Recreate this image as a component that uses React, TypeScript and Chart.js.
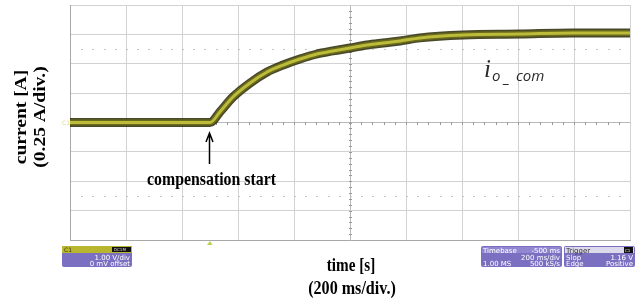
import React, { useEffect, useRef } from "react";
import { Chart, registerables } from "chart.js";

Chart.register(...registerables);

// time in ms (200 ms/div, 10 div), current in A relative to the screen centre (0.25 A/div)
const timeMs = [0, 250, 500, 536, 582, 643, 704, 761, 821, 882, 939, 1000, 1061, 1118, 1179, 1250, 1404, 1607, 1796, 2000];
const currentA = [0, 0, 0, 0.092, 0.217, 0.336, 0.43, 0.489, 0.54, 0.583, 0.609, 0.634, 0.66, 0.677, 0.694, 0.72, 0.745, 0.753, 0.762, 0.762];

const xTicks = { min: 0, max: 2000, step: 200 };
const yTicks = { min: -1, max: 1, step: 0.25 };

const yTitle = ["current [A]", "(0.25 A/div.)"];
const xTitle = ["time [s]", "(200 ms/div.)"];
const eventLabel = "compensation start";
const eventTime = 500;
const traceLabel = { main: "i", sub: ["o", "_", "com"] };

const PURPLE = "#7b6fc1";
const SERIF_B = '700 19px "Liberation Serif"';

function box(ctx: CanvasRenderingContext2D, x: number, y: number, w: number, h: number, fill: string) {
  ctx.fillStyle = fill;
  ctx.beginPath();
  (ctx as any).roundRect ? (ctx as any).roundRect(x, y, w, h, 2) : ctx.rect(x, y, w, h);
  ctx.fill();
}

// text squeezed horizontally (the source figure is condensed)
function sText(ctx: CanvasRenderingContext2D, t: string, x: number, y: number, font: string, sx: number, rot = 0) {
  ctx.save();
  ctx.translate(x, y);
  if (rot) ctx.rotate(rot);
  if (rot) ctx.scale(1, sx);
  else ctx.scale(sx, 1);
  ctx.font = font;
  ctx.fillText(t, 0, 0);
  ctx.restore();
}

const scopePlugin = {
  id: "scope",
  beforeDatasetsDraw(chart: any) {
    const { ctx, chartArea: a, scales } = chart;
    const xs = scales.x, ys = scales.y;
    const cx = xs.getPixelForValue(1000);
    const cy = ys.getPixelForValue(0);
    const divX = (a.right - a.left) / 10;
    const divY = (a.bottom - a.top) / 8;
    ctx.save();
    ctx.fillStyle = "#9a9a9a";
    for (let i = 1; i < 50; i++) {
      const x = a.left + (i * divX) / 5;
      ctx.fillRect(Math.round(x), Math.round(cy) - 1, 1, 3);
    }
    for (let i = 1; i < 40; i++) {
      const y = a.top + (i * divY) / 5;
      ctx.fillRect(Math.round(cx) - 1, Math.round(y), 3, 1);
    }
    ctx.fillStyle = "#c4c4c4";
    [2.5, -2.5].forEach((d) => {
      const y = Math.round(cy - d * divY);
      for (let i = 1; i < 50; i++) {
        const x = a.left + (i * divX) / 5;
        ctx.fillRect(Math.round(x), y, 2, 1);
      }
    });
    ctx.restore();
  },
  afterDraw(chart: any) {
    const { ctx, scales } = chart;
    const xs = scales.x, ys = scales.y;
    ctx.save();
    ctx.fillStyle = "#000";
    ctx.textAlign = "center";
    ctx.textBaseline = "middle";
    sText(ctx, yTitle[0], 22, 117, '700 19.5px "Liberation Serif"', 0.85, -Math.PI / 2);
    sText(ctx, yTitle[1], 41, 117, '700 19.5px "Liberation Serif"', 0.85, -Math.PI / 2);
    ctx.textBaseline = "alphabetic";
    sText(ctx, xTitle[0], 351, 271, '700 18.5px "Liberation Serif"', 0.82);
    sText(ctx, xTitle[1], 352, 294, '700 18.5px "Liberation Serif"', 0.87);

    const ex = Math.round(xs.getPixelForValue(eventTime)) - 0.5;
    ctx.strokeStyle = "#000";
    ctx.lineWidth = 1.5;
    ctx.beginPath();
    ctx.moveTo(ex, 134);
    ctx.lineTo(ex, 164);
    ctx.moveTo(ex - 3.5, 142);
    ctx.lineTo(ex, 133);
    ctx.lineTo(ex + 3.5, 142);
    ctx.stroke();
    sText(ctx, eventLabel, ex + 2, 185, SERIF_B.replace("19px", "18px"), 0.88);

    ctx.fillStyle = "#2a2a2a";
    ctx.textAlign = "left";
    ctx.font = 'italic 25px "Liberation Serif"';
    ctx.fillText(traceLabel.main, 484, 77);
    ctx.font = 'italic 15px "Open Sans"';
    ctx.fillText(traceLabel.sub[0], 492, 81);
    ctx.fillText(traceLabel.sub[1], 504, 83);
    ctx.fillText(traceLabel.sub[2], 516, 81);

    ctx.fillStyle = "#b9d24a";
    ctx.beginPath();
    ctx.moveTo(ex - 2.5, 245);
    ctx.lineTo(ex + 0.5, 241);
    ctx.lineTo(ex + 3, 245);
    ctx.fill();
    ctx.fillStyle = "#d6dc8a";
    ctx.font = '6px "DejaVu Sans"';
    ctx.fillText("C1", 62, ys.getPixelForValue(0) + 2);

    // C1 box
    box(ctx, 62, 246, 70, 21, PURPLE);
    ctx.fillStyle = "#b8b52e";
    ctx.fillRect(62, 246, 70, 7);
    ctx.fillStyle = "#111";
    ctx.fillRect(112, 247, 19, 5);
    ctx.font = '6px "DejaVu Sans"';
    ctx.fillStyle = "#3a3a10";
    ctx.fillText("C1", 64, 252);
    ctx.fillStyle = "#ddd";
    ctx.font = '4px "DejaVu Sans"';
    ctx.fillText("DC1M", 114, 251);
    ctx.fillStyle = "#fff";
    ctx.textAlign = "right";
    ctx.font = '7px "DejaVu Sans"';
    ctx.fillText("1.00 V/div", 130, 259.5);
    ctx.fillText("0 mV offset", 130, 266);

    // Timebase box
    box(ctx, 481, 246, 81, 21, PURPLE);
    ctx.fillStyle = "#9186d0";
    ctx.fillRect(482, 247, 79, 6);
    ctx.fillStyle = "#fff";
    ctx.textAlign = "left";
    ctx.fillText("Timebase", 483, 252.5);
    ctx.textAlign = "right";
    ctx.fillText("-500 ms", 560, 252.5);
    ctx.fillText("200 ms/div", 560, 259.5);
    ctx.fillText("500 kS/s", 560, 266);
    ctx.textAlign = "left";
    ctx.fillText("1.00 MS", 483, 266);

    // Trigger box
    box(ctx, 564, 246, 71, 21, PURPLE);
    ctx.fillStyle = "#dcdaea";
    ctx.fillRect(565, 247, 69, 6);
    ctx.fillStyle = "#111";
    ctx.fillRect(624, 247, 9, 6);
    ctx.fillStyle = "#333";
    ctx.fillText("Trigger", 566, 252.5);
    ctx.fillStyle = "#eee";
    ctx.font = '4px "DejaVu Sans"';
    ctx.fillText("C1", 625, 251.5);
    ctx.font = '7px "DejaVu Sans"';
    ctx.fillStyle = "#fff";
    ctx.fillText("Slop", 566, 259.5);
    ctx.fillText("Edge", 566, 266);
    ctx.textAlign = "right";
    ctx.fillText("1.16 V", 633, 259.5);
    ctx.fillText("Positive", 633, 266);
    ctx.restore();
  },
};

export default function App() {
  const ref = useRef<HTMLCanvasElement>(null);
  useEffect(() => {
    document.body.style.margin = "0";
    const pts = timeMs.map((t, i) => ({ x: t, y: currentA[i] }));
    const chart = new Chart(ref.current!, {
      type: "line",
      data: {
        datasets: [
          { data: pts, borderColor: "#bcbc3a", borderWidth: 3, pointRadius: 0, cubicInterpolationMode: "monotone" },
          { data: pts, borderColor: "#6a6a1c", borderWidth: 6, pointRadius: 0, cubicInterpolationMode: "monotone" },
          { data: pts, borderColor: "rgba(40,40,5,0.85)", borderWidth: 9, pointRadius: 0, cubicInterpolationMode: "monotone" },
        ],
      },
      options: {
        animation: false,
        responsive: false,
        devicePixelRatio: 1,
        layout: { padding: { left: 70, right: 12, top: 5, bottom: 66 } },
        plugins: { legend: { display: false }, tooltip: { enabled: false } },
        scales: {
          x: {
            type: "linear",
            min: xTicks.min,
            max: xTicks.max,
            ticks: { display: false, stepSize: xTicks.step },
            grid: { drawTicks: false, color: (c: any) => (c.tick && c.tick.value === 1000 ? "#b8b8b8" : "#d2d2d2") },
            border: { display: true, color: "#a8a8a8" },
          },
          y: {
            type: "linear",
            min: yTicks.min,
            max: yTicks.max,
            ticks: { display: false, stepSize: yTicks.step },
            grid: { drawTicks: false, color: (c: any) => (c.tick && c.tick.value === 0 ? "#b8b8b8" : "#d2d2d2") },
            border: { display: true, color: "#a8a8a8" },
          },
        },
      },
      plugins: [scopePlugin],
    });
    return () => chart.destroy();
  }, []);
  return <canvas ref={ref} width={642} height={306} style={{ display: "block" }} />;
}
